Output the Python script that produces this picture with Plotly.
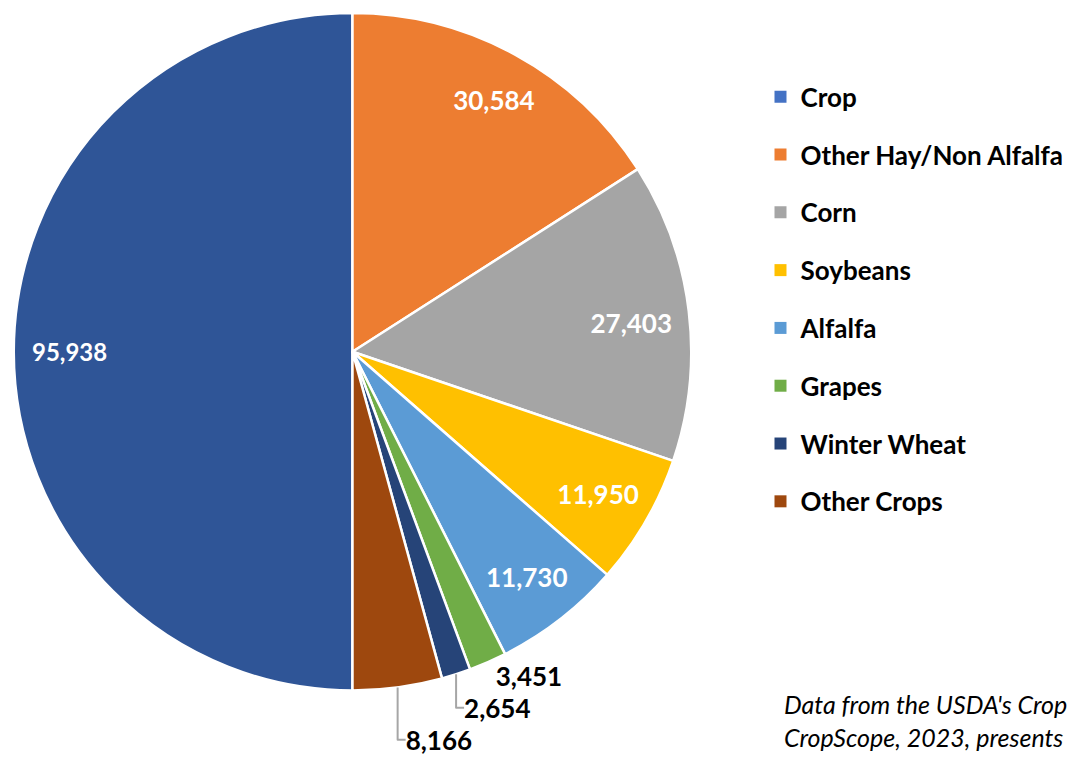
import plotly.graph_objects as go

categories = ["Crop", "Other Hay/Non Alfalfa", "Corn", "Soybeans", "Alfalfa",
              "Grapes", "Winter Wheat", "Other Crops"]
values = [95938, 30584, 27403, 11950, 11730, 3451, 2654, 8166]
slice_colors = ["#2F5597", "#ED7D31", "#A5A5A5", "#FFC000", "#5B9BD5",
                "#70AD47", "#264478", "#9E480E"]
legend_colors = ["#4472C4", "#ED7D31", "#A5A5A5", "#FFC000", "#5B9BD5",
                 "#70AD47", "#264478", "#9E480E"]
text_positions = ["inside"] * 5 + ["outside"] * 3
note_lines = ["Data from the USDA's Crop",
              "CropScope, 2023, presents"]

FONT = "Lato, 'Open Sans', sans-serif"
NBSP = "\u00a0"
BLACK_LABEL = "<span style='color:black'>%{value:,}</span>"

# label templates; invisible padding nudges a few labels toward the rim
templates = ([NBSP * 3 + "%{value:,}" + NBSP * 42,
              NBSP * 10 + "%{value:,}<br>" + NBSP + "<br>" + NBSP + "<br>" + NBSP,
              NBSP * 14 + "%{value:,}"]
             + ["%{value:,}"] * 2
             + [BLACK_LABEL] * 3)

fig = go.Figure()
fig.add_trace(go.Pie(
    labels=categories,
    values=values,
    sort=False,
    direction="clockwise",
    rotation=180,
    marker=dict(colors=slice_colors, line=dict(color="white", width=2.5)),
    texttemplate=templates,
    textposition=text_positions,
    textfont=dict(family=FONT, size=26, color="white", weight="bold"),
    insidetextfont=dict(family=FONT, size=26, color="white", weight="bold"),
    outsidetextfont=dict(family=FONT, size=26, color="#A6A6A6", weight="bold"),
    insidetextorientation="horizontal",
    showlegend=False,
    hoverinfo="label+value",
    domain=dict(x=[0.0, 0.631], y=[0.1015, 1.0]),
))

for i, (cat, col) in enumerate(zip(categories, legend_colors)):
    fig.add_trace(go.Scatter(
        x=[None], y=[None], mode="markers", name=cat,
        marker=dict(symbol="square", size=12, color=col),
        legendgroup="g%d" % i, showlegend=True,
    ))

fig.add_annotation(
    text="<i>" + "<br>".join(note_lines) + "</i>", xref="paper", yref="paper",
    x=0.7144, y=0.0613, xanchor="left", yanchor="middle", align="left",
    showarrow=False, font=dict(family=FONT, size=25, color="black"),
)

fig.update_layout(
    width=1081, height=759,
    margin=dict(l=0, r=0, t=0, b=0),
    paper_bgcolor="white", plot_bgcolor="white",
    xaxis=dict(visible=False), yaxis=dict(visible=False),
    font=dict(family=FONT),
    legend=dict(
        x=0.6947, y=0.920, xanchor="left", yanchor="top",
        font=dict(family=FONT, size=26, color="black", weight="bold"),
        tracegroupgap=21, bgcolor="rgba(0,0,0,0)",
    ),
)

fig.write_html("out.html")
